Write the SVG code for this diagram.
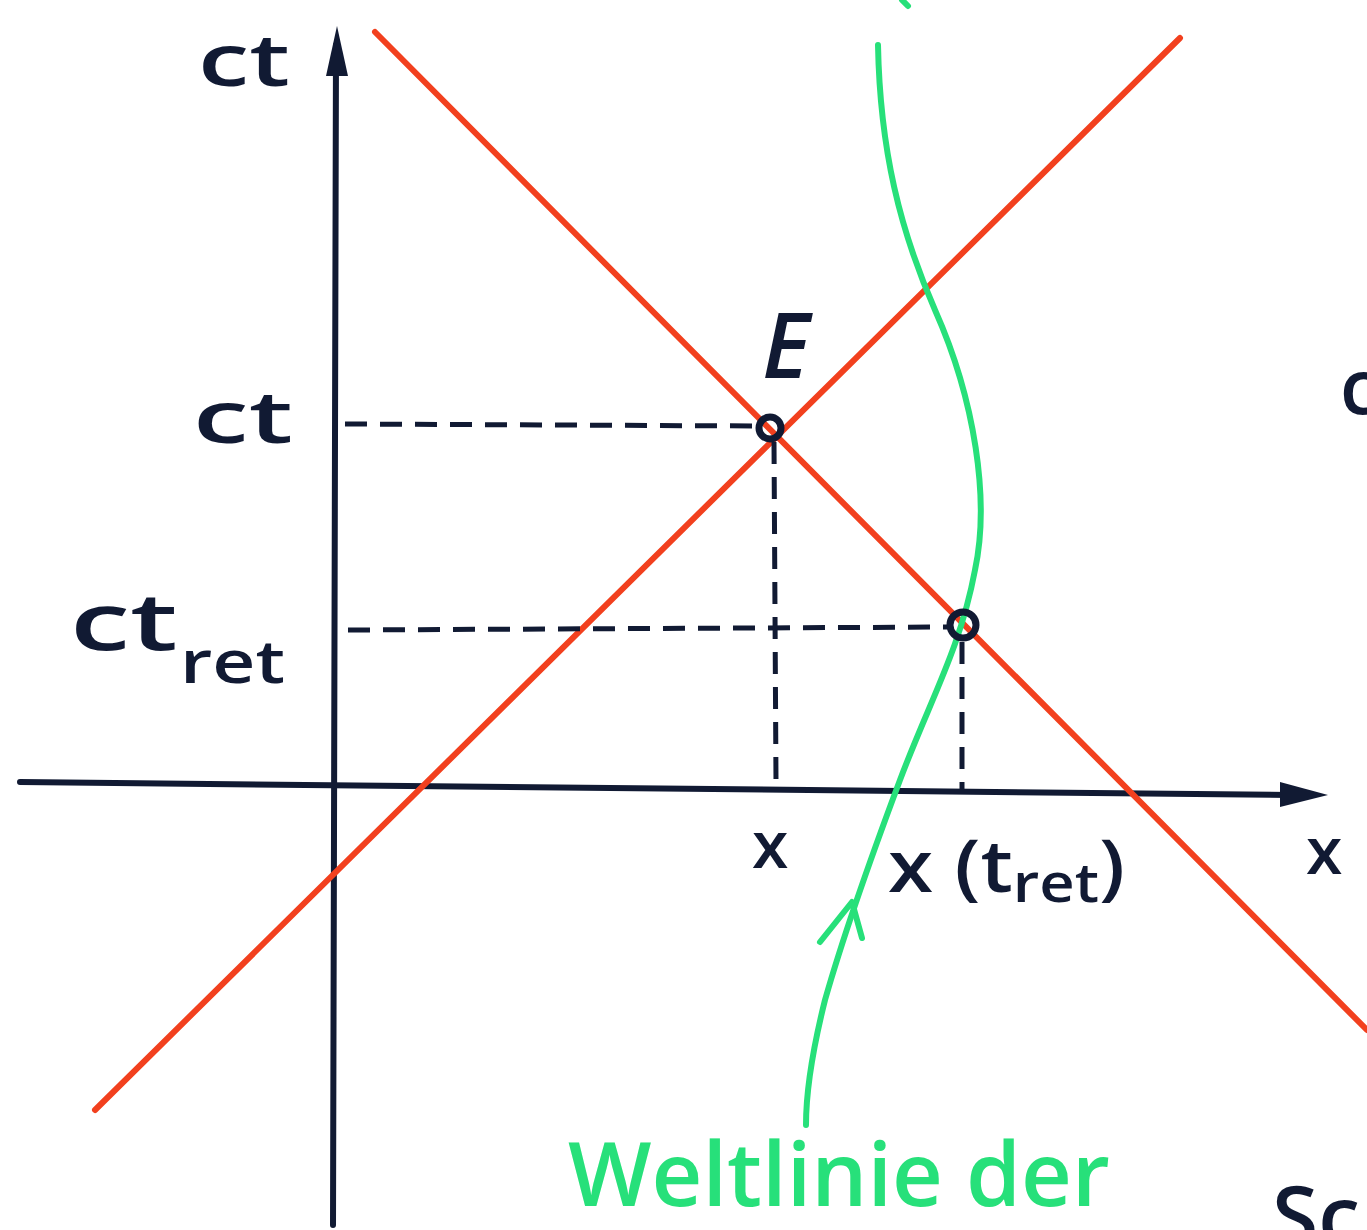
<svg xmlns="http://www.w3.org/2000/svg" width="1367" height="1230" viewBox="0 0 1367 1230">
<style>
.ax{stroke:#111a33;stroke-width:6;fill:none;stroke-linecap:round}
.red{stroke:#f2401e;stroke-width:6;fill:none;stroke-linecap:round}
.grn{stroke:#27e07a;stroke-width:6;fill:none;stroke-linecap:round;stroke-linejoin:round}
.dash{stroke:#111a33;stroke-width:5;fill:none;stroke-dasharray:22 13}
.pt{stroke:#111a33;stroke-width:7;fill:none}
.lbl{font-family:"Open Sans","DejaVu Sans",sans-serif;fill:#111a33;font-weight:600}
.glbl{font-family:"Open Sans","DejaVu Sans",sans-serif;fill:#27e07a;font-weight:600}
</style>
<rect width="1367" height="1230" fill="#ffffff"/>
<g id="connectors">
  <g id="axes">
    <path class="ax" d="M333 1225 L336 45"/>
    <path d="M337 26 L326 76 L348 76 Z" fill="#111a33"/>
    <path class="ax" d="M20 782 L1290 795"/>
    <path d="M1328 795 L1280 782 L1280 807 Z" fill="#111a33"/>
  </g>
  <g id="light-cone">
    <path class="red" d="M375 32 L1367 1030"/>
    <path class="red" d="M95 1110 L1180 38"/>
  </g>
  <g id="dashed">
    <path class="dash" d="M345 424 L758 426"/>
    <path class="dash" d="M348 630 L950 627"/>
    <path class="dash" d="M774 442 L776 782"/>
    <path class="dash" d="M962 642 L962 790"/>
  </g>
  <g id="worldline">
    <path class="grn" d="M878 45 C880 150 900 230 935 310 C975 400 990 500 975 570 C960 650 930 700 900 780 C870 860 845 930 825 1000 C810 1060 806 1100 806 1125"/>
    <path class="grn" d="M820 942 L852 902 L862 938"/>
    <path class="grn" d="M902 0 L908 6"/>
  </g>
</g>
<g id="node-E">
  <circle class="pt" cx="770" cy="428" r="11"/>
  <text class="lbl" x="762" y="378" font-size="90" font-style="italic">E</text>
</g>
<g id="node-ret">
  <circle class="pt" cx="963" cy="625" r="13"/>
</g>
<g id="labels">
  <text class="lbl" x="198" y="86" font-size="72" textLength="92" lengthAdjust="spacingAndGlyphs">ct</text>
  <text class="lbl" x="193" y="443" font-size="72" textLength="100" lengthAdjust="spacingAndGlyphs">ct</text>
  <text class="lbl" x="70" y="650" font-size="80" textLength="108" lengthAdjust="spacingAndGlyphs">ct</text>
  <text class="lbl" x="180" y="683" font-size="60" textLength="105" lengthAdjust="spacingAndGlyphs">ret</text>
  <text class="lbl" x="752" y="868" font-size="66">x</text>
  <text class="lbl" x="888" y="892" font-size="72" textLength="237" lengthAdjust="spacingAndGlyphs">x (t<tspan font-size="54" dy="10">ret</tspan><tspan dy="-10">)</tspan></text>
  <text class="lbl" x="1306" y="874" font-size="66">x</text>
  <text class="lbl" x="1340" y="414" font-size="76">c</text>
  <text class="lbl" x="1272" y="1246" font-size="84">Sc</text>
  <text class="glbl" x="568" y="1206" font-size="88" textLength="542" lengthAdjust="spacingAndGlyphs">Weltlinie der</text>
</g>
</svg>
